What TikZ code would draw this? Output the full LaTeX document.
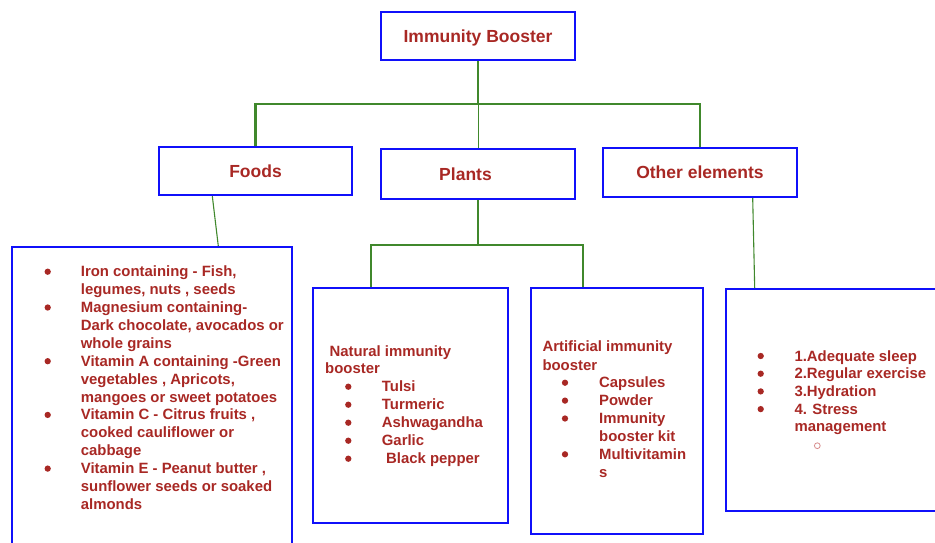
\documentclass[tikz,border=0pt]{standalone}
\usepackage{fontspec}
\setmainfont{Liberation Sans}
\usetikzlibrary{calc}
\pgfdeclarelayer{background}
\pgfsetlayers{background,main}
\definecolor{txtred}{RGB}{168,40,36}
\definecolor{boxblue}{RGB}{16,16,250}
\definecolor{lgreen}{RGB}{64,136,44}
\definecolor{ringred}{RGB}{215,140,140}
\begin{document}
\begin{tikzpicture}[x=1pt,y=-1pt,
  box/.style={draw=boxblue, line width=2pt, rectangle, inner sep=0pt},
  head/.style={font=\fontsize{17.5}{20}\selectfont\bfseries, text=txtred, text height=12.6pt, text depth=0pt},
  item/.style={font=\fontsize{14.9}{18}\selectfont\bfseries, text=txtred, anchor=base west, inner sep=0pt},
  dot/.style={circle, fill=txtred, inner sep=0pt, minimum size=6.3pt},
  ring/.style={circle, draw=ringred, line width=0.8pt, inner sep=0pt, minimum size=5.8pt},
  conn/.style={draw=lgreen, line width=2.2pt},
  thinconn/.style={draw=lgreen, line width=1pt},
]
\useasboundingbox (0,0) rectangle (935,542);

% header boxes
\node[box, head, minimum width=194pt, minimum height=48pt] (root) at (478,36) {Immunity Booster};
\node[box, head, minimum width=193pt, minimum height=48pt] (foods) at (255.5,171) {Foods};
\node[box, minimum width=194pt, minimum height=50pt,
      label={[head, xshift=-12.5pt, yshift=-0.5pt]center:Plants}] (plants) at (478,174) {};
\node[box, head, minimum width=194pt, minimum height=49pt] (other) at (700,172.5) {Other elements};

% content boxes
\node[box, minimum width=280pt, minimum height=323pt] (fcont) at (152,408.5) {};
\node[box, minimum width=195pt, minimum height=235pt] (natural) at (410.5,405.5) {};
\node[box, minimum width=172pt, minimum height=246pt] (artificial) at (617,411) {};
\node[box, minimum width=229pt, minimum height=222pt] (ocont) at (840.5,400) {};

% connectors
\begin{pgfonlayer}{background}
\coordinate (hub) at (478,104);
\coordinate (phub) at (478,244.7);
\draw[conn] (root.south) -- (hub);
\draw[conn] (foods.north) |- (hub) -| (other.north);
\draw[thinconn] (hub) -- (plants.north);
\draw[conn] (plants.south) -- (phub);
\draw[conn, line width=2pt] ($(natural.north west)+(58.7,0)$) |- (phub) -| ($(artificial.north west)+(53.3,0)$);
\draw[thinconn, line width=1.1pt] ($(foods.south west)+(54.3,0)$) -- ($(fcont.north west)+(207.3,0)$);
\draw[thinconn, line width=1.1pt] ($(other.south west)+(150.7,0)$) -- ($(ocont.north west)+(29.7,0)$);
\end{pgfonlayer}

% Foods list
\foreach \t [count=\i from 0] in {{Iron containing - Fish,}, {legumes, nuts , seeds}, {Magnesium containing-}, {Dark chocolate, avocados or}, {whole grains}, {Vitamin A containing -Green}, {vegetables , Apricots,}, {mangoes or sweet potatoes}, {Vitamin C - Citrus fruits ,}, {cooked cauliflower or}, {cabbage}, {Vitamin E - Peanut butter ,}, {sunflower seeds or soaked}, {almonds}}
  \node[item] (food\i) at (80.7, {276.7+17.9*\i}) {\t};
\foreach \i in {0,2,5,8,11}
  \node[dot] (fdot\i) at (47.7, {271.7+17.9*\i}) {};

% Natural immunity booster
\node[item] (nat1) at (329.3,356) {Natural immunity};
\node[item] (nat2) at (325,373.3) {booster};
\foreach \t/\x [count=\i from 0] in {Tulsi/381.7, Turmeric/381.7, Ashwagandha/381.7, Garlic/381.7, Black pepper/386}
  {\node[item] (nit\i) at (\x, {391.7+18*\i}) {\t};
   \node[dot] (ndot\i) at (348.3, {386.7+18*\i}) {};}

% Artificial immunity booster
\node[item] (art1) at (542.3,351.7) {Artificial immunity};
\node[item] (art2) at (542.3,370) {booster};
\foreach \t [count=\i from 0] in {Capsules, Powder, Immunity, booster kit, Multivitamin, s}
  \node[item] (ait\i) at (599, {387.7+17.9*\i}) {\t};
\foreach \i in {0,1,2,4}
  \node[dot] (adot\i) at (565, {382.7+17.9*\i}) {};

% Other elements list
\foreach \t [count=\i from 0] in {1.Adequate sleep, 2.Regular exercise, 3.Hydration, 4. Stress, management}
  \node[item] (oit\i) at (794.3, {361+17.7*\i}) {\t};
\foreach \i in {0,1,2,3}
  \node[dot] (odot\i) at (760.7, {356+17.7*\i}) {};
\node[ring] (oring) at (817.3,445.7) {};
\end{tikzpicture}
\end{document}
